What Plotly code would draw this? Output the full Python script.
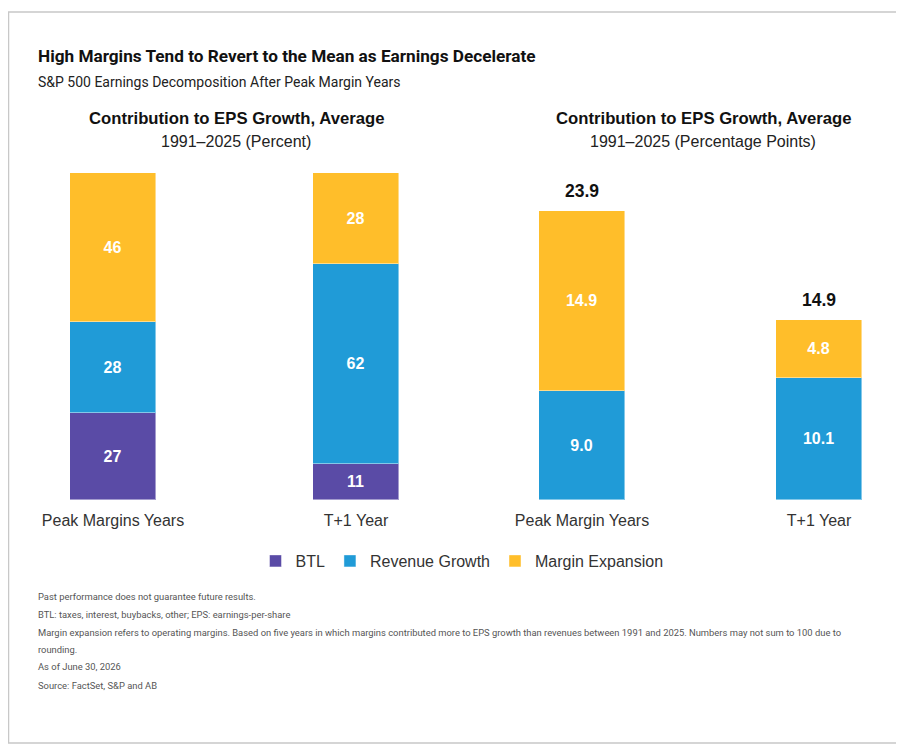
import plotly.graph_objects as go
from plotly.subplots import make_subplots

# data
categories_pct = ["Peak Margins Years", "T+1 Year"]
categories_pp = ["Peak Margin Years", "T+1 Year"]
btl_pct = [27, 11]
revenue_pct = [28, 62]
margin_pct = [46, 28]
revenue_pp = [9.0, 10.1]
margin_pp = [14.9, 4.8]
totals_pp = [23.9, 14.9]

series_names = ["BTL", "Revenue Growth", "Margin Expansion"]
colors = ["#5A4BA6", "#209BD7", "#FFBE2A"]

footnotes = [
    "Past performance does not guarantee future results.",
    "BTL: taxes, interest, buybacks, other; EPS: earnings-per-share",
    "Margin expansion refers to operating margins. Based on five years in which margins contributed more to EPS growth than revenues between 1991 and 2025. Numbers may not sum to 100 due to",
    "rounding.",
    "As of June 30, 2026",
    "Source: FactSet, S&P and AB",
]

# page has an 8px body margin, so work in screen pixels and shift
W, H = 896, 743
def px_x(x):
    return (x - 8) / W
def px_y(y):
    return 1 - (y - 8) / H

fig = make_subplots(rows=1, cols=2)

edge = dict(color="rgba(255,255,255,0.45)", width=1)
lbl_font = dict(family="Liberation Sans, Arial", size=16, color="white", weight="bold")

# left panel (percent)
for name, vals, col in zip(series_names, [btl_pct, revenue_pct, margin_pct], colors):
    fig.add_trace(go.Bar(
        x=categories_pct, y=vals, name=name, marker=dict(color=col, line=edge),
        width=0.354, texttemplate="%{y:.0f}", textposition="inside",
        insidetextanchor="middle", textfont=lbl_font, constraintext="none",
        legendgroup=name, hoverinfo="skip",
    ), row=1, col=1)

# right panel (percentage points)
for name, vals, col in zip(series_names[1:], [revenue_pp, margin_pp], colors[1:]):
    fig.add_trace(go.Bar(
        x=categories_pp, y=vals, name=name, marker=dict(color=col, line=edge),
        width=0.363, texttemplate="%{y:.1f}", textposition="inside",
        insidetextanchor="middle", textfont=lbl_font, constraintext="none",
        legendgroup=name, showlegend=False, hoverinfo="skip",
    ), row=1, col=2)

for c, t in zip(categories_pp, totals_pp):
    fig.add_annotation(x=c, y=t, xref="x2", yref="y2", text=f"<b>{t:.1f}</b>",
                       showarrow=False, yanchor="bottom", yshift=8,
                       font=dict(family="Liberation Sans, Arial", size=17.5, color="#111"))

tick_font = dict(family="Liberation Sans, Arial", size=16, color="#333")
y0, y1 = px_y(500), px_y(173)
fig.update_layout(
    barmode="stack",
    width=W, height=H,
    margin=dict(l=0, r=0, t=0, b=0),
    paper_bgcolor="white", plot_bgcolor="white",
    xaxis=dict(domain=[px_x(30), px_x(440)], range=[-0.3416, 1.3457], showgrid=False,
               showline=False, zeroline=False, ticks="outside", ticklen=6,
               tickcolor="white", tickfont=tick_font),
    xaxis2=dict(domain=[px_x(490), px_x(880)], range=[-0.388, 1.257], showgrid=False,
                showline=False, zeroline=False, ticks="outside", ticklen=6,
                tickcolor="white", tickfont=tick_font),
    yaxis=dict(domain=[y0, y1], range=[0, 101], visible=False),
    yaxis2=dict(domain=[y0, y1], range=[0, 27.05], visible=False),
    legend=dict(orientation="h", x=px_x(462), xanchor="center", y=px_y(561), yanchor="middle",
                font=dict(family="Liberation Sans, Arial", size=16, color="#333"),
                itemwidth=30, traceorder="normal"),
    bargap=0,
)

# titles
fig.add_annotation(xref="paper", yref="paper", x=px_x(36), y=px_y(56), xanchor="left", yanchor="middle",
                   text="<b>High Margins Tend to Revert to the Mean as Earnings Decelerate</b>",
                   showarrow=False, font=dict(family="Roboto", size=17.2, color="#111"))
fig.add_annotation(xref="paper", yref="paper", x=px_x(36), y=px_y(82), xanchor="left", yanchor="middle",
                   text="S&P 500 Earnings Decomposition After Peak Margin Years",
                   showarrow=False, font=dict(family="Roboto", size=14, color="#222"))

for xc, unit in [(236, "Percent"), (703, "Percentage Points")]:
    fig.add_annotation(xref="paper", yref="paper", x=px_x(xc), y=px_y(119), xanchor="center", yanchor="middle",
                       text="<b>Contribution to EPS Growth, Average</b>", showarrow=False,
                       font=dict(family="Liberation Sans, Arial", size=16.7, color="#111"))
    fig.add_annotation(xref="paper", yref="paper", x=px_x(xc), y=px_y(141), xanchor="center", yanchor="middle",
                       text=f"1991\u20132025 ({unit})", showarrow=False,
                       font=dict(family="Liberation Sans, Arial", size=16, color="#222"))

# footnotes
for ty, line in zip([596, 614, 632, 649, 666, 685], footnotes):
    fig.add_annotation(xref="paper", yref="paper", x=px_x(36), y=px_y(ty), xanchor="left", yanchor="middle",
                       text=line, showarrow=False,
                       font=dict(family="Roboto", size=9.4, color="#555"))

# border
fig.add_shape(type="rect", xref="paper", yref="paper", x0=0.5 / W, x1=px_x(897), y0=px_y(743), y1=px_y(12),
              line=dict(color="#c8c8c8", width=1.5))

fig.write_html("out.html")
